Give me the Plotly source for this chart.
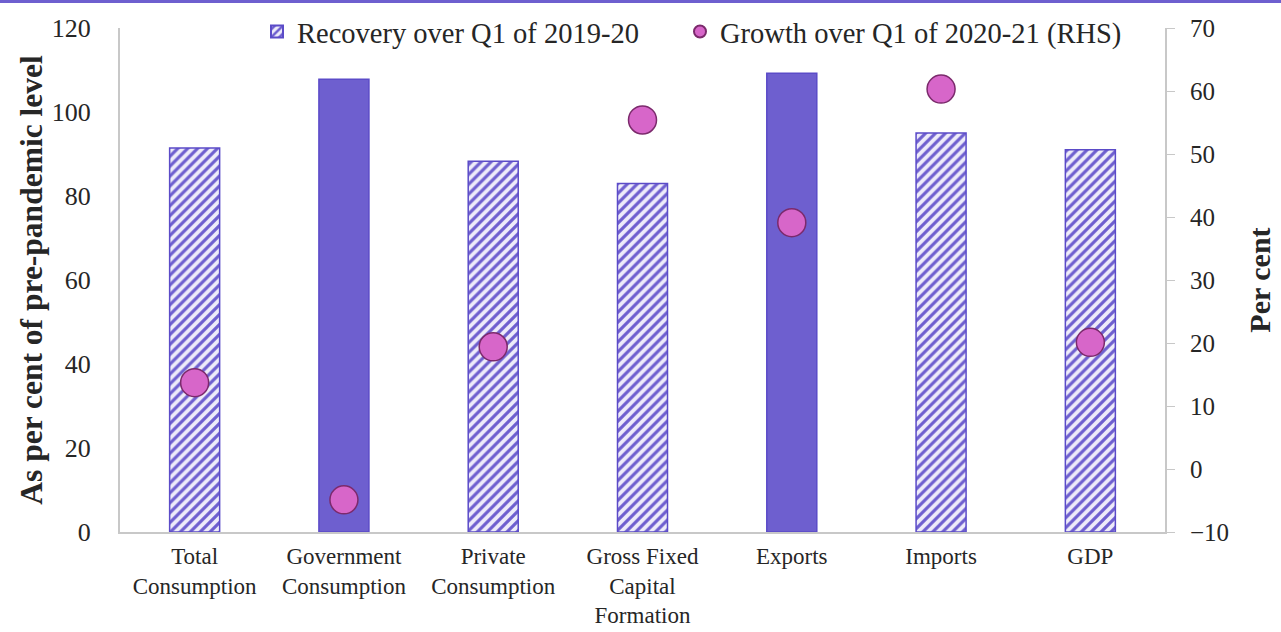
import plotly.graph_objects as go

categories = ["Total<br>Consumption", "Government<br>Consumption", "Private<br>Consumption",
              "Gross Fixed<br>Capital<br>Formation", "Exports", "Imports", "GDP"]
recovery = [91.4, 107.8, 88.3, 83.0, 109.2, 95.0, 91.0]
growth = [13.7, -4.9, 19.4, 55.4, 39.1, 60.3, 20.1]
patterns = ["/", "", "/", "/", "", "/", "/"]

PURPLE = "#6e5fcf"
PINK = "#d766c9"
FONT = "Liberation Serif"
TXT = "#262626"

fig = go.Figure()
fig.add_trace(go.Bar(
    x=categories, y=recovery, name="Recovery over Q1 of 2019-20",
    width=0.335, legend="legend",
    marker=dict(color=PURPLE, line=dict(color="#5b4bc8", width=1.5),
                pattern=dict(shape=patterns, fillmode="replace", size=7, solidity=0.45,
                             bgcolor="#eeecfa")),
))
fig.add_trace(go.Scatter(
    x=categories, y=growth, name="Growth over Q1 of 2020-21 (RHS)", yaxis="y2",
    mode="markers", legend="legend2",
    marker=dict(color=PINK, size=28, line=dict(color="#7b2a6c", width=1.5)),
))

legend_common = dict(orientation="h", y=(532 - 32) / 504, yanchor="middle", xanchor="left",
                     font=dict(size=28.5, color=TXT), bgcolor="rgba(0,0,0,0)",
                     itemsizing="constant")

fig.update_layout(
    width=1281, height=632,
    margin=dict(l=120, r=116, t=28, b=100, autoexpand=False),
    paper_bgcolor="white", plot_bgcolor="white",
    font=dict(family=FONT, size=23, color=TXT),
    showlegend=True,
    legend=dict(x=(257 - 120) / 1045, **legend_common),
    legend2=dict(x=(680 - 120) / 1045, **legend_common),
    bargap=0.66,
    xaxis=dict(showline=True, linecolor="#c8c8c8", linewidth=2, automargin=False,
               ticks="outside", ticklen=2, tickcolor="rgba(0,0,0,0)",
               tickfont=dict(size=23, color=TXT), showgrid=False),
    yaxis=dict(range=[0, 120], dtick=20, showline=True, linecolor="#c8c8c8", linewidth=2,
               showgrid=False, zeroline=False, ticks="", ticklabelstandoff=22, automargin=False,
               title=dict(text="<b>As per cent of pre-pandemic level</b>",
                          font=dict(size=31.5, color=TXT), standoff=0),
               tickfont=dict(size=26, color=TXT)),
    yaxis2=dict(range=[-10, 70], dtick=10, overlaying="y", side="right", showline=True,
                linecolor="#c8c8c8", linewidth=2, showgrid=False, zeroline=False,
                ticks="outside", ticklen=8, tickcolor="#c8c8c8", ticklabelstandoff=10,
                automargin=False,
                title=dict(text="<b>Per cent</b>", font=dict(size=30, color=TXT), standoff=21),
                tickfont=dict(size=25, color=TXT)),
    shapes=[dict(type="line", xref="paper", yref="paper", x0=-0.2, x1=1.2,
                 y0=(532 - 1.5) / 504, y1=(532 - 1.5) / 504,
                 line=dict(color="#6e5fcf", width=3))],
)

fig.write_html("out.html")
